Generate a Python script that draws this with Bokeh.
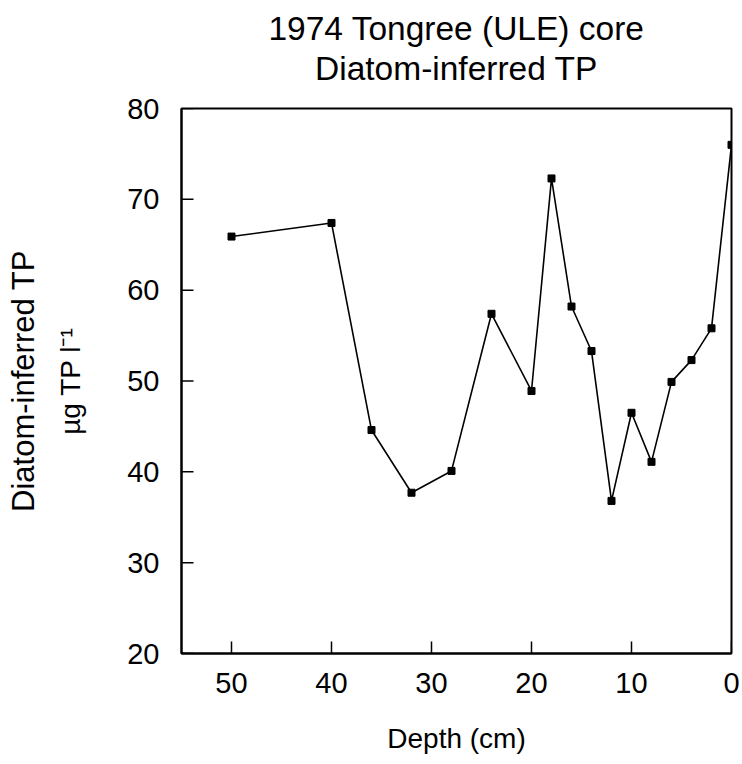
from bokeh.plotting import figure
from bokeh.models import Range1d, LinearAxis, FixedTicker, Title
from bokeh.embed import file_html
from bokeh.resources import INLINE

# Data
depth = [50, 40, 36, 32, 28, 24, 20, 18, 16, 14, 12, 10, 8, 6, 4, 2, 0]
tp = [65.9, 67.4, 44.6, 37.7, 40.1, 57.4, 48.9, 72.3, 58.2, 53.3, 36.8, 46.5, 41.1, 49.9, 52.3, 55.8, 76.0]
x_ticks = [0, 10, 20, 30, 40, 50]
y_ticks = [20, 30, 40, 50, 60, 70, 80]
title_lines = ["1974 Tongree (ULE) core", "Diatom-inferred TP"]
x_min, x_max = 55, 0
y_min, y_max = 20, 80

FONT = "Liberation Sans"
FW, FH = 550, 545
TICK_PX = 12
px_y = FH / (y_max - y_min)   # pixels per y unit
px_x = FW / (x_min - x_max)   # pixels per x unit

p = figure(
    frame_width=FW, frame_height=FH,
    min_border_left=181, min_border_right=11,
    min_border_top=108, min_border_bottom=111,
    x_range=Range1d(x_min, x_max), y_range=Range1d(y_min, y_max),
    output_backend="svg", toolbar_location=None,
    background_fill_color="white", border_fill_color="white",
)
p.grid.visible = False
p.outline_line_color = "black"
p.outline_line_width = 2

p.line(depth, tp, line_color="black", line_width=1.6)
p.scatter(depth, tp, marker="square", size=7, fill_color="black", line_color="black")

# inward tick marks (length converted from pixels to data units)
dy = TICK_PX / px_y
dx = TICK_PX / px_x
p.segment(x0=x_ticks, y0=[y_min] * len(x_ticks), x1=x_ticks,
          y1=[y_min + dy] * len(x_ticks), line_color="black", line_width=1.5)
p.segment(x0=[x_min] * len(y_ticks), y0=y_ticks, x1=[x_min - dx] * len(y_ticks),
          y1=y_ticks, line_color="black", line_width=1.5)

# x axis
xa = p.xaxis[0]
xa.ticker = FixedTicker(ticks=x_ticks)
xa.major_tick_in = 0
xa.major_tick_out = 0
xa.minor_tick_line_color = None
xa.axis_line_width = 2
xa.major_label_standoff = 19
xa.major_label_text_font = FONT
xa.major_label_text_font_size = "29px"
xa.major_label_text_color = "black"
xa.axis_label = "Depth (cm)"
xa.axis_label_text_font = FONT
xa.axis_label_text_font_size = "28px"
xa.axis_label_text_font_style = "normal"
xa.axis_label_text_color = "black"
xa.axis_label_standoff = 27

# y axis
ya = p.yaxis[0]
ya.ticker = FixedTicker(ticks=y_ticks)
ya.major_tick_in = 0
ya.major_tick_out = 0
ya.minor_tick_line_color = None
ya.axis_line_width = 2
ya.major_label_standoff = 22
ya.major_label_text_font = FONT
ya.major_label_text_font_size = "29px"
ya.major_label_text_color = "black"
ya.axis_label = "µg TP l⁻¹"
ya.axis_label_text_font = FONT
ya.axis_label_text_font_size = "28px"
ya.axis_label_text_font_style = "normal"
ya.axis_label_text_color = "black"
ya.axis_label_standoff = 38

# outer y label line
ya2 = LinearAxis(ticker=FixedTicker(ticks=[]), axis_line_color=None,
                 major_tick_line_color=None, minor_tick_line_color=None,
                 axis_label="Diatom-inferred TP")
ya2.axis_label_text_font = FONT
ya2.axis_label_text_font_size = "31px"
ya2.axis_label_text_font_style = "normal"
ya2.axis_label_text_color = "black"
ya2.axis_label_standoff = 12
p.add_layout(ya2, "left")

# titles: a thin spacer next to the frame, then the two lines (nearest first)
spacer = Title(text=" ", text_font_size="1px", standoff=19)
p.add_layout(spacer, "above")
for line, s in zip(reversed(title_lines), [0, 2]):
    p.add_layout(Title(text=line, align="center", text_font=FONT,
                       text_font_size="33.5px", text_font_style="normal",
                       text_color="black", standoff=s), "above")

open("out.html", "w").write(file_html(p, INLINE))
